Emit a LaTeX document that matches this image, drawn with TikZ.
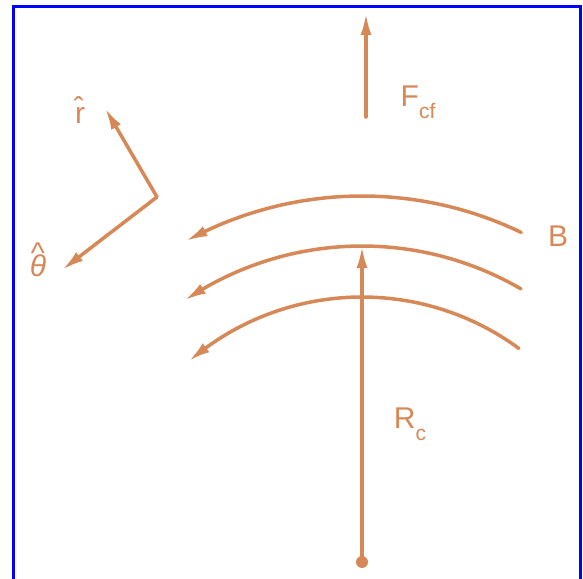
\documentclass[tikz,border=0pt]{standalone}
\usepackage{fontspec}
\setmainfont{Liberation Sans}
\usetikzlibrary{arrows.meta, bending}
\definecolor{rust}{RGB}{214,137,87}
\definecolor{frameblue}{RGB}{0,0,255}

\begin{document}
\begin{tikzpicture}[
  x=1pt, y=1pt,
  vec/.style={draw=rust, line width=3.5pt, line cap=round,
              -{Latex[length=22pt,width=11pt,bend]}},
  lbl/.style={text=rust, font=\fontsize{30}{34}\selectfont, inner sep=0pt}
]
\useasboundingbox (0,0) rectangle (583,578);
\begin{scope}
  \clip (0,0) rectangle (583,578);
  \draw[frameblue, line width=3pt] (13,-20) rectangle (580,571);
\end{scope}

\coordinate (O) at (362,16);
\coordinate (rtip) at (362,332);
\coordinate (fbase) at (366,461);
\coordinate (ftip) at (366,565);
\coordinate (corner) at (157,381);
\coordinate (rhat) at (105,470);
\coordinate (thhat) at (62,308);

\draw[vec] (O) ++(64.2:366) arc[start angle=64.2, end angle=118.8, radius=366];
\draw[vec] (O) ++(59.8:316) arc[start angle=59.8, end angle=124.2, radius=316];
\draw[vec] (O) ++(53.7:265) arc[start angle=53.7, end angle=130.8, radius=265];

\draw[vec] (O) -- (rtip);
\fill[rust] (O) circle[radius=6];
\draw[vec] (fbase) -- (ftip);
\draw[vec] (corner) -- (rhat);
\draw[vec] (corner) -- (thhat);

\node[lbl] (Fcf) at (418,476) {F\raisebox{-0.4em}{\fontsize{21}{24}\selectfont cf}};
\node[lbl] (Rc) at (410,154) {R\raisebox{-0.4em}{\fontsize{21}{24}\selectfont c}};
\node[lbl] (B) at (558,342) {B};
\node[lbl] (rlab) at (80,468) {\^r};
\node[lbl] (thlab) at (38,318) {\itshape θ\llap{\raisebox{0.42em}{\^{}\hspace{0.06em}}}};
\end{tikzpicture}
\end{document}
